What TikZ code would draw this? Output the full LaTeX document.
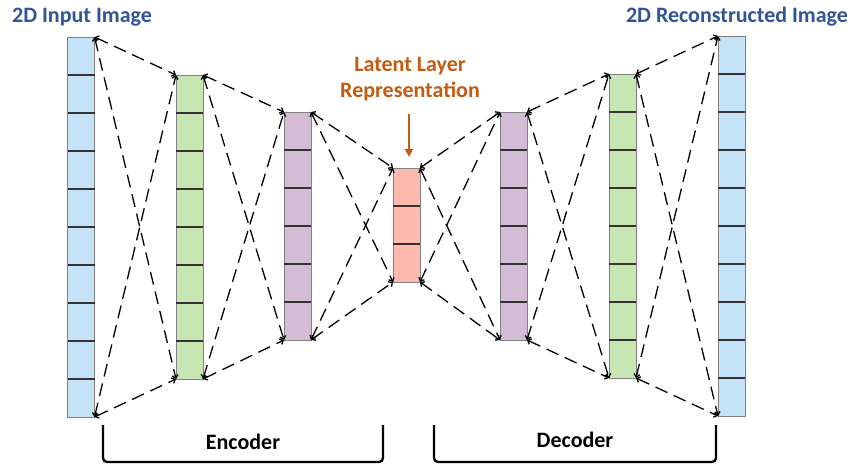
\documentclass[tikz,border=0pt]{standalone}
\usepackage{fontspec}
\setmainfont{Carlito}
\usetikzlibrary{arrows.meta,calc}
\definecolor{titleblue}{HTML}{2F5597}
\definecolor{latorange}{HTML}{C55A11}
\definecolor{cblue}{HTML}{C5E3F6}
\definecolor{cgreen}{HTML}{C8E6B4}
\definecolor{cpurple}{HTML}{D3BDD5}
\definecolor{cred}{HTML}{FFBAB0}
\definecolor{edgegray}{HTML}{808080}
\tikzset{
  layer/.style={draw=edgegray, line width=1pt, minimum width=27pt, inner sep=0pt, outer sep=0pt},
  divider/.style={draw=black!80, line width=1.1pt},
  link/.style={dashed, dash pattern=on 13pt off 7pt, line width=1.3pt, {Straight Barb[length=3pt,width=6pt]}-{Straight Barb[length=3pt,width=6pt]}},
  titletext/.style={font=\fontsize{22}{26}\selectfont\bfseries, text=titleblue, inner sep=0pt},
  lattext/.style={font=\fontsize{22}{26}\selectfont\bfseries, text=latorange, align=center, inner sep=0pt},
  parttext/.style={font=\fontsize{22}{26}\selectfont\bfseries, text=black, inner sep=0pt},
  bracket/.style={line width=2.4pt, rounded corners=4pt},
}
\begin{document}
\begin{tikzpicture}[x=1pt,y=1pt]
\useasboundingbox (0,0) rectangle (854,-466);
% layers
\node[layer, fill=cblue,   minimum height=380pt] (L1) at (81,-227) {};
\node[layer, fill=cgreen,  minimum height=304pt] (L2) at (189.5,-227) {};
\node[layer, fill=cpurple, minimum height=228pt] (L3) at (297.5,-226) {};
\node[layer, fill=cred,    minimum height=114pt] (L4) at (406.5,-225) {};
\node[layer, fill=cpurple, minimum height=228pt] (L5) at (513.5,-226) {};
\node[layer, fill=cgreen,  minimum height=304pt] (L6) at (622.5,-226) {};
\node[layer, fill=cblue,   minimum height=380pt] (L7) at (731.5,-226) {};
% dividers
\foreach \k in {1,...,9}{
  \draw[divider] ([yshift=-\k*38pt]L1.north west) -- ([yshift=-\k*38pt]L1.north east);
  \draw[divider] ([yshift=-\k*38pt]L7.north west) -- ([yshift=-\k*38pt]L7.north east);
}
\foreach \k in {1,...,7}{
  \draw[divider] ([yshift=-\k*38pt]L2.north west) -- ([yshift=-\k*38pt]L2.north east);
  \draw[divider] ([yshift=-\k*38pt]L6.north west) -- ([yshift=-\k*38pt]L6.north east);
}
\foreach \k in {1,...,5}{
  \draw[divider] ([yshift=-\k*38pt]L3.north west) -- ([yshift=-\k*38pt]L3.north east);
  \draw[divider] ([yshift=-\k*38pt]L5.north west) -- ([yshift=-\k*38pt]L5.north east);
}
\foreach \k in {1,2}{
  \draw[divider] ([yshift=-\k*38pt]L4.north west) -- ([yshift=-\k*38pt]L4.north east);
}
% connectors
\foreach \a/\b in {L1/L2,L2/L3,L3/L4,L4/L5,L5/L6,L6/L7}{
  \draw[link] (\a.north east) -- (\b.north west);
  \draw[link] (\a.north east) -- (\b.south west);
  \draw[link] (\a.south east) -- (\b.north west);
  \draw[link] (\a.south east) -- (\b.south west);
}
% titles
\node[titletext] (tin) at (82,-17) {2D Input Image};
\node[titletext] (tout) at (737,-17) {2D Reconstructed Image};
\node[lattext] (tlat) at (410,-79) {Latent Layer\\Representation};
\coordinate (arrtop) at (409,-114);
\coordinate (arrbot) at (409,-157);
\draw[latorange, line width=2.4pt, -{Triangle[length=8pt,width=8pt]}] (arrtop) -- (arrbot);
% brackets
\draw[bracket] (103,-425) -- (103,-462) -- (383,-462) -- (383,-425);
\draw[bracket] (434,-425) -- (434,-462) -- (716,-462) -- (716,-425);
\node[parttext] (enc) at (243,-442) {Encoder};
\node[parttext] (dec) at (575,-440) {Decoder};
\end{tikzpicture}
\end{document}
